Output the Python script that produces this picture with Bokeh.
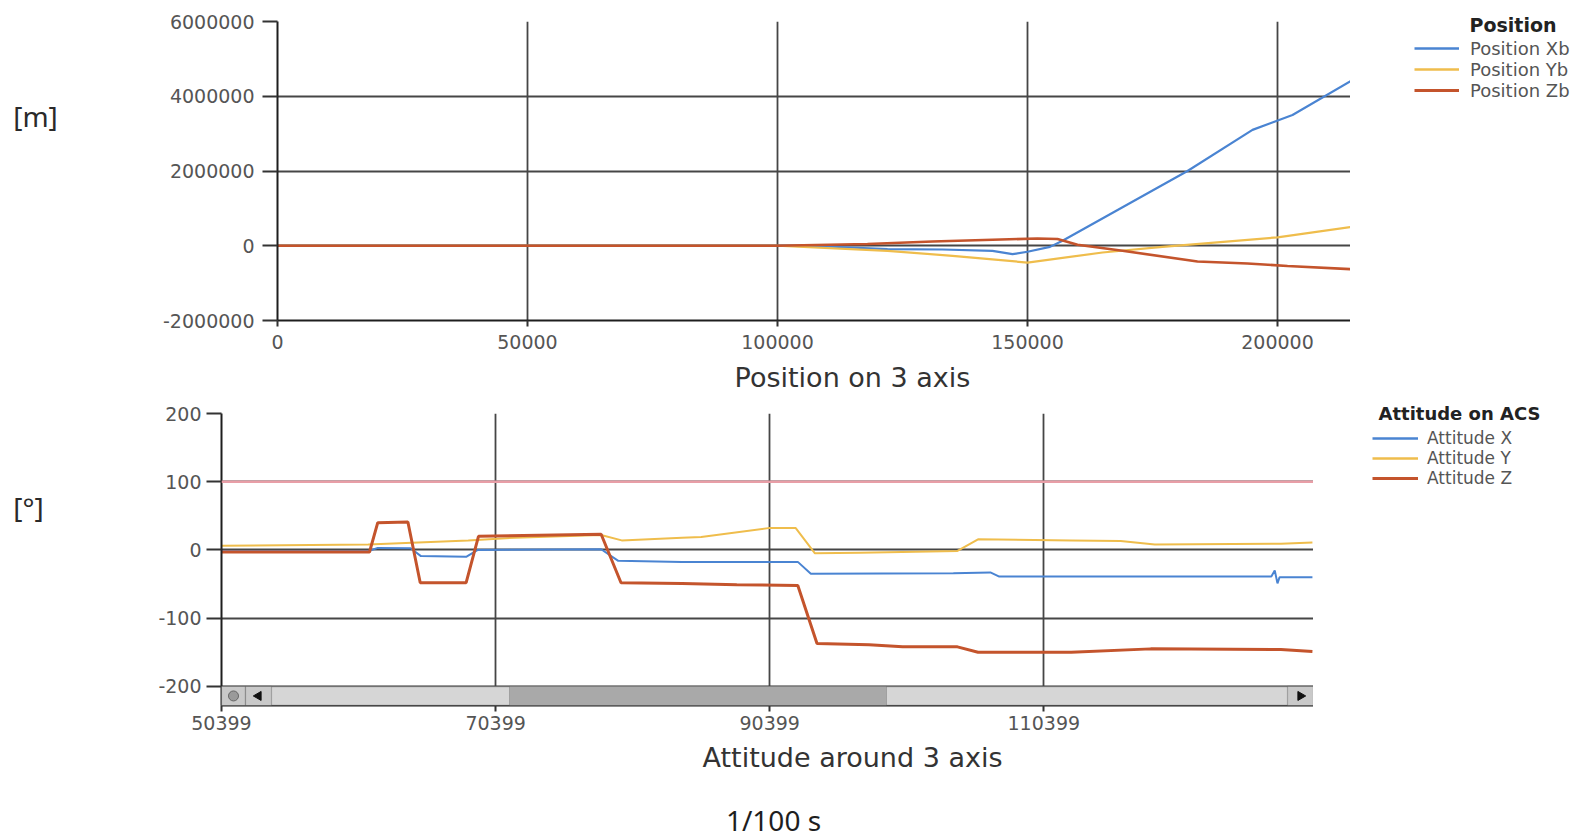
import math
from bokeh.plotting import figure
from bokeh.models import (Legend, LegendItem, Span, BoxAnnotation,
                          FixedTicker, Range1d)
from bokeh.layouts import column, row
from bokeh.embed import file_html
from bokeh.resources import INLINE
from bokeh.core.properties import value

# ---------------- data: Position on 3 axis [m] vs 1/100 s ----------------
pos_xb_t = [0, 100000, 110000, 122000, 133000, 143000, 147000, 150000, 154500,
            157000, 182000, 195000, 203000, 214600]
pos_xb = [0, 0, -20000, -90000, -100000, -135000, -225000, -160000, -30000,
          135000, 2000000, 3100000, 3500000, 4400000]

pos_yb_t = [0, 100000, 122000, 135000, 150000, 165000, 177000, 200000, 214600]
pos_yb = [0, 0, -135000, -270000, -450000, -180000, -30000, 225000, 500000]

pos_zb_t = [0, 100000, 118000, 131000, 143000, 152000, 156000, 160000, 169000,
            184000, 194000, 202000, 214600]
pos_zb = [0, 0, 45000, 115000, 160000, 195000, 180000, 25000, -135000,
          -420000, -475000, -540000, -625000]

# ---------------- data: Attitude around 3 axis [deg] ----------------
att_x_t = [50399, 61100, 61800, 64200, 64950, 68250, 69100, 78100, 79350, 84000,
           92450, 93400, 103800, 106500, 107150, 127000, 127250, 127450, 127600, 130000]
att_x = [-2, -2, 3, 2.5, -9, -10, 0, 1, -16, -17.5,
         -17.5, -35, -34, -33, -39, -39, -30, -49, -40, -40]

att_y_t = [50399, 61100, 68400, 71800, 78100, 79600, 84000, 85400, 90300, 92300,
           93700, 97000, 104100, 105600, 112400, 116000, 118500, 127700, 130000]
att_y = [6, 8, 14, 18, 22, 14, 18, 19, 32, 32,
         -5, -4, -1.5, 15.5, 14, 13, 8, 9, 11]

att_z_t = [50399, 61200, 61800, 64000, 64900, 68250, 69150, 78100, 79550, 84000,
           88000, 92450, 93850, 97650, 100100, 104100, 105600, 112400, 118200,
           127700, 130000]
att_z = [-3, -3, 40, 41, -48, -48, 20, 23, -48, -49,
         -51, -52, -137, -139, -142, -142, -150, -150, -145, -146, -149]

att_limit = 100

pos_names = ["Position Xb", "Position Yb", "Position Zb"]
att_names = ["Attitude X", "Attitude Y", "Attitude Z"]

# ---------------- ticks ----------------
top_x_ticks = [0, 50000, 100000, 150000, 200000]
top_x_labels = ["0", "50000", "100000", "150000", "200000"]
top_y_ticks = [-2000000, 0, 2000000, 4000000, 6000000]
top_y_labels = ["-2000000", "0", "2000000", "4000000", "6000000"]
bot_x_ticks = [50399, 70399, 90399, 110399]
bot_x_labels = ["50399", "70399", "90399", "110399"]
bot_y_ticks = [-200, -100, 0, 100, 200]
bot_y_labels = ["-200", "-100", "0", "100", "200"]

# ---------------- style ----------------
C_BLUE = "#4a84d2"
C_YEL = "#efbd4c"
C_RED = "#c4542c"
C_PINK = "#e89ea7"
GRID = "#464646"
FONT = "DejaVu Sans"
TOTAL_W = 1580

# ---------------- layout geometry (page px) ----------------
LW = 100                                  # unit-label column width
ROW_A = (0, 357)       # top chart row
ROW_B = (357, 395)     # top axis title
ROW_C = (395, 740)     # bottom chart row
ROW_D = (740, 837)     # bottom axis title + time unit
TOP_FRAME = (277, 21, 1350, 320)          # left, top, right, bottom (page)
BOT_FRAME = (221, 413, 1313, 705)
TOP_X = (0, 214600)
TOP_Y = (-2000000, 6000000)
BOT_X = (50399, 130078)
BOT_Y = (-228, 200)
NAN = float("nan")


def plain_fig(w, h):
    f = figure(width=w, height=h, output_backend="svg", toolbar_location=None, title=None,
               x_range=Range1d(0, w), y_range=Range1d(h, 0),
               x_axis_location=None, y_axis_location=None,
               min_border_left=0, min_border_right=0, min_border_top=0, min_border_bottom=0)
    f.grid.visible = False
    f.outline_line_color = None
    f.frame_align = False
    return f


def add_text(f, x, y, text, font, size, color, style="normal", align="center"):
    f.text(x=[x], y=[y], text=[text], text_font=value(font), text_font_size=size,
           text_color=color, text_font_style=style, text_align=align,
           text_baseline="middle")


def style_axes(p, ytick_out, xtick_out, ystand, xstand):
    for ax in (p.xaxis[0], p.yaxis[0]):
        ax.major_label_text_font = FONT
        ax.major_label_text_font_size = "19px"
        ax.major_label_text_color = "#555555"
        ax.axis_line_color = "#1e1e1e"
        ax.axis_line_width = 2
        ax.major_tick_line_color = "#333333"
        ax.major_tick_line_width = 2
        ax.minor_tick_line_color = None
        ax.major_tick_in = 0
    p.yaxis[0].major_tick_out = ytick_out
    p.xaxis[0].major_tick_out = xtick_out
    p.yaxis[0].major_label_standoff = ystand
    p.xaxis[0].major_label_standoff = xstand
    p.xgrid.grid_line_color = GRID
    p.ygrid.grid_line_color = GRID
    p.xgrid.grid_line_width = 1.8
    p.ygrid.grid_line_width = 1.8
    p.outline_line_color = None
    p.frame_align = False


def chart_fig(row_span, frame, xr, yr, right_edge):
    h = row_span[1] - row_span[0]
    left, top, right, bottom = frame
    w = right_edge - LW
    return figure(width=w, height=h, output_backend="svg", toolbar_location=None,
                  title=None, x_range=Range1d(*xr), y_range=Range1d(*yr),
                  min_border_left=left - LW, min_border_right=right_edge - right,
                  min_border_top=top - row_span[0],
                  min_border_bottom=row_span[1] - bottom)


def legend_fig(row_span, frame, names, colors, widths, font_size, item_h,
               glyph_x, glyph_w, standoff, first_center, title, title_x, title_y, title_size):
    h = row_span[1] - row_span[0]
    x0 = frame[2]
    w = TOTAL_W - x0
    f = plain_fig(w, h)
    # legend swatches: same line styles as the chart series (no visible data here)
    rs = [f.line(x=[NAN], y=[NAN], line_color=c, line_width=lw)
          for c, lw in zip(colors, widths)]
    leg_top = first_center - item_h / 2 - row_span[0]
    leg_h = len(names) * item_h
    leg = Legend(items=[LegendItem(label=n, renderers=[r]) for n, r in zip(names, rs)],
                 location=(glyph_x - x0, h - (leg_top + leg_h)),
                 padding=0, margin=0, spacing=0,
                 border_line_color=None, background_fill_alpha=0,
                 glyph_width=glyph_w, glyph_height=18, label_height=18,
                 label_standoff=standoff, label_text_font=FONT,
                 label_text_font_size=f"{font_size}px", label_text_color="#555555")
    f.add_layout(leg)
    add_text(f, title_x - x0, title_y - row_span[0], title, FONT, title_size, "#222222",
             style="bold", align="left")
    return f


# ======================= top chart =======================
p1 = chart_fig(ROW_A, TOP_FRAME, TOP_X, TOP_Y, TOP_FRAME[2])
p1.xaxis[0].ticker = FixedTicker(ticks=top_x_ticks)
p1.yaxis[0].ticker = FixedTicker(ticks=top_y_ticks)
p1.xaxis[0].major_label_overrides = dict(zip(top_x_ticks, top_x_labels))
p1.yaxis[0].major_label_overrides = dict(zip(top_y_ticks, top_y_labels))
style_axes(p1, 15, 6, 8, 8)

p1.line(pos_xb_t, pos_xb, line_color=C_BLUE, line_width=2.2)
p1.line(pos_yb_t, pos_yb, line_color=C_YEL, line_width=2.2)
p1.line(pos_zb_t, pos_zb, line_color=C_RED, line_width=2.6)

rf1 = legend_fig(ROW_A, TOP_FRAME, pos_names, [C_BLUE, C_YEL, C_RED], [2.6, 2.6, 2.8],
                 18, 21.2, 1414, 45, 11, 47.7, "Position", 1469, 24, "19px")

# ======================= bottom chart =======================
p2 = chart_fig(ROW_C, BOT_FRAME, BOT_X, BOT_Y, BOT_FRAME[2])
p2.xaxis[0].ticker = FixedTicker(ticks=bot_x_ticks)
p2.yaxis[0].ticker = FixedTicker(ticks=bot_y_ticks)
p2.xaxis[0].major_label_overrides = dict(zip(bot_x_ticks, bot_x_labels))
p2.yaxis[0].major_label_overrides = dict(zip(bot_y_ticks, bot_y_labels))
style_axes(p2, 15, 6, 5, 4)

p2.add_layout(Span(location=att_limit, dimension="width", line_color=C_PINK, line_width=2.5))

p2.line(att_x_t, att_x, line_color=C_BLUE, line_width=2)
p2.line(att_y_t, att_y, line_color=C_YEL, line_width=2)
p2.line(att_z_t, att_z, line_color=C_RED, line_width=3)


def bx(px):  # page px -> bottom data x (for the scrollbar decoration)
    return BOT_X[0] + (px - BOT_FRAME[0]) / (BOT_FRAME[2] - BOT_FRAME[0]) * (BOT_X[1] - BOT_X[0])


# scrollbar decoration at the bottom of the attitude plot
sb_top, sb_bot = -200, BOT_Y[0]
p2.add_layout(BoxAnnotation(left=bx(221), right=bx(1313), top=sb_top, bottom=sb_bot,
                            fill_color="#d6d6d6", fill_alpha=1, line_color="#2e2e2e",
                            line_width=1.5))
p2.add_layout(BoxAnnotation(left=bx(509), right=bx(886), top=sb_top, bottom=sb_bot,
                            fill_color="#a9a9a9", fill_alpha=1, line_color="#555555",
                            line_width=1))
for l, r in ((221, 245), (245, 271), (1287, 1313)):
    p2.add_layout(BoxAnnotation(left=bx(l), right=bx(r), top=sb_top, bottom=sb_bot,
                                fill_color="#c9c9c9", fill_alpha=1, line_color="#333333",
                                line_width=1.2))
mid_y = (sb_top + sb_bot) / 2
ic1 = p2.scatter([bx(233)], [mid_y], marker="circle", size=10, fill_color="#9a9a9a",
                 line_color="#666666")
ic2 = p2.scatter([bx(258)], [mid_y], marker="triangle", size=9, angle=math.pi / 2,
                 fill_color="#111111", line_color="#111111")
ic3 = p2.scatter([bx(1300)], [mid_y], marker="triangle", size=9, angle=-math.pi / 2,
                 fill_color="#111111", line_color="#111111")
for r in (ic1, ic2, ic3):
    r.level = "overlay"

rf2 = legend_fig(ROW_C, BOT_FRAME, att_names, [C_BLUE, C_YEL, C_RED], [2.6, 2.6, 2.8],
                 17, 19.8, 1372, 46, 9, 438, "Attitude on ACS", 1378, 413, "18px")

# ======================= unit labels and axis titles =======================
lf1 = plain_fig(LW, ROW_A[1] - ROW_A[0])
add_text(lf1, 35, 115 - ROW_A[0], "[m]", "Noto Sans", "28px", "#2a2a2a")
lf2 = plain_fig(LW, ROW_C[1] - ROW_C[0])
add_text(lf2, 28, 506 - ROW_C[0], "[°]", "Noto Sans", "28px", "#2a2a2a")

tf1 = plain_fig(TOTAL_W, ROW_B[1] - ROW_B[0])
add_text(tf1, 852, 377 - ROW_B[0], "Position on 3 axis", FONT, "27px", "#333333")
tf2 = plain_fig(TOTAL_W, ROW_D[1] - ROW_D[0])
add_text(tf2, 852, 757 - ROW_D[0], "Attitude around 3 axis", FONT, "27px", "#333333")
add_text(tf2, 773, 819 - ROW_D[0], "1/100 s", "Noto Sans", "28px", "#1e1e1e")

layout = column(row(lf1, p1, rf1, spacing=0), tf1,
                row(lf2, p2, rf2, spacing=0), tf2, spacing=0)
open("out.html", "w").write(file_html(layout, INLINE))
